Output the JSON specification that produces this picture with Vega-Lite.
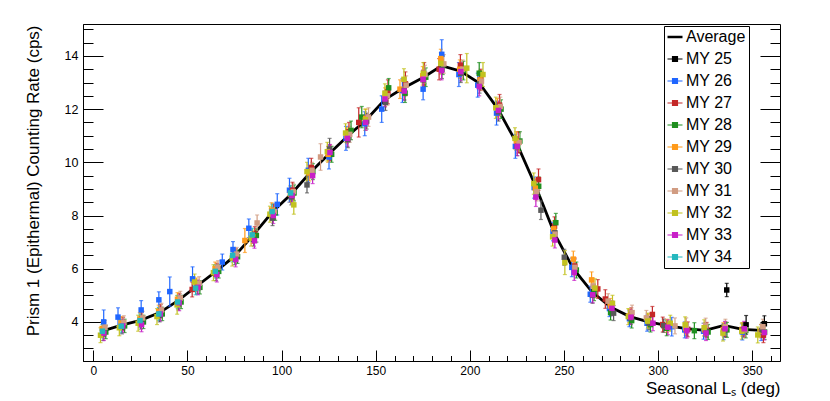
{
"$schema":"https://vega.github.io/schema/vega-lite/v6.json",
"width":697,"height":337,"autosize":"none",
"padding":{"left":83,"top":24,"right":50,"bottom":40},
"background":"white",
"config":{"view":{"stroke":"black","strokeWidth":1},"font":"Liberation Sans"},
"datasets":{
"avg":[{"ls":5,"avg":3.66},{"ls":15,"avg":3.88},{"ls":25,"avg":4.06},{"ls":35,"avg":4.34},{"ls":45,"avg":4.8},{"ls":55,"avg":5.35},{"ls":65,"avg":5.89},{"ls":75,"avg":6.47},{"ls":85,"avg":7.27},{"ls":95,"avg":8.12},{"ls":105,"avg":8.8},{"ls":115,"avg":9.6},{"ls":125,"avg":10.3},{"ls":135,"avg":10.98},{"ls":145,"avg":11.6},{"ls":155,"avg":12.37},{"ls":165,"avg":12.8},{"ls":175,"avg":13.18},{"ls":185,"avg":13.63},{"ls":195,"avg":13.43},{"ls":205,"avg":12.98},{"ls":215,"avg":12.0},{"ls":225,"avg":10.7},{"ls":235,"avg":9.1},{"ls":245,"avg":7.32},{"ls":255,"avg":6.0},{"ls":265,"avg":5.12},{"ls":275,"avg":4.55},{"ls":285,"avg":4.2},{"ls":295,"avg":4.0},{"ls":305,"avg":3.86},{"ls":315,"avg":3.75},{"ls":325,"avg":3.68},{"ls":335,"avg":3.87},{"ls":345,"avg":3.72},{"ls":355,"avg":3.68}],
"pts":[
{"s":"MY 25","x":336.5,"v":5.2,"e":0.25},{"s":"MY 25","x":346.8,"v":3.89,"e":0.35},{"s":"MY 25","x":356.5,"v":3.93,"e":0.3},
{"s":"MY 26","x":5.5,"v":4.0,"e":0.45},{"s":"MY 26","x":13.1,"v":4.18,"e":0.35},{"s":"MY 26","x":25.4,"v":4.45,"e":0.35},{"s":"MY 26","x":34.8,"v":4.83,"e":0.3},{"s":"MY 26","x":40.6,"v":5.14,"e":0.55},{"s":"MY 26","x":52.7,"v":5.62,"e":0.45},{"s":"MY 26","x":68.5,"v":6.25,"e":0.3},{"s":"MY 26","x":74.2,"v":6.72,"e":0.3},{"s":"MY 26","x":82.6,"v":7.52,"e":0.35},{"s":"MY 26","x":97.7,"v":8.42,"e":0.4},{"s":"MY 26","x":104.2,"v":8.95,"e":0.45},{"s":"MY 26","x":114.2,"v":9.7,"e":0.45},{"s":"MY 26","x":125.2,"v":10.2,"e":0.45},{"s":"MY 26","x":134.2,"v":10.9,"e":0.45},{"s":"MY 26","x":144.2,"v":11.45,"e":0.45},{"s":"MY 26","x":153.2,"v":12.0,"e":0.5},{"s":"MY 26","x":164.2,"v":12.7,"e":0.45},{"s":"MY 26","x":175.2,"v":12.75,"e":0.4},{"s":"MY 26","x":185.1,"v":14.06,"e":0.55},{"s":"MY 26","x":194.2,"v":13.3,"e":0.45},{"s":"MY 26","x":204.2,"v":12.9,"e":0.45},{"s":"MY 26","x":214.2,"v":11.85,"e":0.45},{"s":"MY 26","x":224.2,"v":10.6,"e":0.45},{"s":"MY 26","x":234.2,"v":9.05,"e":0.4},{"s":"MY 26","x":244.2,"v":7.4,"e":0.35},{"s":"MY 26","x":254.2,"v":6.05,"e":0.35},{"s":"MY 26","x":264.0,"v":5.04,"e":0.3},{"s":"MY 26","x":274.2,"v":4.5,"e":0.3},{"s":"MY 26","x":284.8,"v":4.12,"e":0.3},{"s":"MY 26","x":294.2,"v":3.95,"e":0.3},{"s":"MY 26","x":307.3,"v":3.82,"e":0.35},{"s":"MY 26","x":314.2,"v":3.7,"e":0.3},{"s":"MY 26","x":324.2,"v":3.65,"e":0.3},{"s":"MY 26","x":334.8,"v":3.63,"e":0.3},{"s":"MY 26","x":344.8,"v":3.62,"e":0.3},{"s":"MY 26","x":354.8,"v":3.6,"e":0.3},
{"s":"MY 27","x":5.8,"v":3.72,"e":0.25},{"s":"MY 27","x":15.8,"v":3.92,"e":0.25},{"s":"MY 27","x":25.8,"v":4.12,"e":0.25},{"s":"MY 27","x":35.8,"v":4.4,"e":0.25},{"s":"MY 27","x":45.8,"v":4.82,"e":0.25},{"s":"MY 27","x":52.5,"v":5.22,"e":0.28},{"s":"MY 27","x":65.8,"v":5.95,"e":0.25},{"s":"MY 27","x":75.8,"v":6.5,"e":0.25},{"s":"MY 27","x":85.8,"v":7.3,"e":0.28},{"s":"MY 27","x":95.8,"v":8.15,"e":0.28},{"s":"MY 27","x":105.8,"v":8.95,"e":0.3},{"s":"MY 27","x":115.8,"v":9.8,"e":0.35},{"s":"MY 27","x":125.8,"v":10.35,"e":0.3},{"s":"MY 27","x":135.8,"v":11.15,"e":0.35},{"s":"MY 27","x":141.0,"v":11.5,"e":0.55},{"s":"MY 27","x":156.5,"v":12.65,"e":0.45},{"s":"MY 27","x":165.8,"v":12.95,"e":0.45},{"s":"MY 27","x":175.8,"v":13.3,"e":0.45},{"s":"MY 27","x":183.7,"v":13.5,"e":0.4},{"s":"MY 27","x":195.0,"v":13.65,"e":0.4},{"s":"MY 27","x":205.8,"v":13.1,"e":0.4},{"s":"MY 27","x":215.8,"v":12.15,"e":0.4},{"s":"MY 27","x":225.8,"v":10.75,"e":0.4},{"s":"MY 27","x":236.5,"v":9.35,"e":0.4},{"s":"MY 27","x":245.0,"v":7.6,"e":0.35},{"s":"MY 27","x":255.8,"v":6.1,"e":0.3},{"s":"MY 27","x":268.0,"v":5.24,"e":0.35},{"s":"MY 27","x":272.0,"v":4.86,"e":0.35},{"s":"MY 27","x":285.8,"v":4.25,"e":0.28},{"s":"MY 27","x":297.0,"v":4.28,"e":0.3},{"s":"MY 27","x":302.5,"v":3.9,"e":0.28},{"s":"MY 27","x":315.8,"v":3.72,"e":0.28},{"s":"MY 27","x":325.8,"v":3.7,"e":0.28},{"s":"MY 27","x":335.8,"v":3.72,"e":0.28},{"s":"MY 27","x":345.8,"v":3.7,"e":0.28},{"s":"MY 27","x":356.0,"v":3.5,"e":0.28},
{"s":"MY 28","x":6.6,"v":3.62,"e":0.25},{"s":"MY 28","x":16.6,"v":3.85,"e":0.25},{"s":"MY 28","x":26.6,"v":4.0,"e":0.25},{"s":"MY 28","x":36.6,"v":4.3,"e":0.25},{"s":"MY 28","x":46.6,"v":4.75,"e":0.25},{"s":"MY 28","x":56.6,"v":5.3,"e":0.25},{"s":"MY 28","x":66.6,"v":5.9,"e":0.25},{"s":"MY 28","x":76.6,"v":6.45,"e":0.25},{"s":"MY 28","x":86.6,"v":7.25,"e":0.25},{"s":"MY 28","x":96.6,"v":8.1,"e":0.28},{"s":"MY 28","x":106.6,"v":8.85,"e":0.3},{"s":"MY 28","x":116.6,"v":9.65,"e":0.3},{"s":"MY 28","x":126.6,"v":10.3,"e":0.3},{"s":"MY 28","x":136.9,"v":11.2,"e":0.35},{"s":"MY 28","x":142.6,"v":11.7,"e":0.4},{"s":"MY 28","x":156.9,"v":12.8,"e":0.35},{"s":"MY 28","x":165.6,"v":12.6,"e":0.35},{"s":"MY 28","x":176.6,"v":13.2,"e":0.35},{"s":"MY 28","x":185.6,"v":13.65,"e":0.35},{"s":"MY 28","x":196.6,"v":13.45,"e":0.35},{"s":"MY 28","x":205.0,"v":13.35,"e":0.4},{"s":"MY 28","x":216.6,"v":12.0,"e":0.35},{"s":"MY 28","x":226.6,"v":10.8,"e":0.35},{"s":"MY 28","x":236.6,"v":9.1,"e":0.35},{"s":"MY 28","x":245.7,"v":7.73,"e":0.35},{"s":"MY 28","x":256.6,"v":5.95,"e":0.3},{"s":"MY 28","x":266.0,"v":5.1,"e":0.3},{"s":"MY 28","x":274.8,"v":4.35,"e":0.28},{"s":"MY 28","x":286.0,"v":4.05,"e":0.28},{"s":"MY 28","x":296.0,"v":3.9,"e":0.28},{"s":"MY 28","x":304.6,"v":3.76,"e":0.28},{"s":"MY 28","x":319.3,"v":3.67,"e":0.3},{"s":"MY 28","x":326.6,"v":3.62,"e":0.28},{"s":"MY 28","x":336.6,"v":3.7,"e":0.28},{"s":"MY 28","x":346.6,"v":3.68,"e":0.28},{"s":"MY 28","x":356.6,"v":3.62,"e":0.28},
{"s":"MY 29","x":4.7,"v":3.75,"e":0.25},{"s":"MY 29","x":14.7,"v":3.95,"e":0.25},{"s":"MY 29","x":24.7,"v":4.1,"e":0.25},{"s":"MY 29","x":34.7,"v":4.38,"e":0.25},{"s":"MY 29","x":44.7,"v":4.85,"e":0.25},{"s":"MY 29","x":54.7,"v":5.4,"e":0.25},{"s":"MY 29","x":64.7,"v":6.0,"e":0.25},{"s":"MY 29","x":80.5,"v":7.06,"e":0.45},{"s":"MY 29","x":84.7,"v":7.2,"e":0.25},{"s":"MY 29","x":94.7,"v":8.2,"e":0.28},{"s":"MY 29","x":104.7,"v":8.8,"e":0.3},{"s":"MY 29","x":114.7,"v":9.6,"e":0.3},{"s":"MY 29","x":124.7,"v":10.3,"e":0.3},{"s":"MY 29","x":134.7,"v":11.0,"e":0.3},{"s":"MY 29","x":144.7,"v":11.65,"e":0.35},{"s":"MY 29","x":155.0,"v":12.45,"e":0.35},{"s":"MY 29","x":162.9,"v":12.75,"e":0.35},{"s":"MY 29","x":175.0,"v":13.25,"e":0.35},{"s":"MY 29","x":184.6,"v":13.9,"e":0.35},{"s":"MY 29","x":194.7,"v":13.5,"e":0.35},{"s":"MY 29","x":205.4,"v":13.1,"e":0.35},{"s":"MY 29","x":214.7,"v":12.05,"e":0.35},{"s":"MY 29","x":224.7,"v":10.8,"e":0.35},{"s":"MY 29","x":234.8,"v":9.03,"e":0.35},{"s":"MY 29","x":244.6,"v":7.5,"e":0.3},{"s":"MY 29","x":255.0,"v":6.36,"e":0.3},{"s":"MY 29","x":264.7,"v":5.58,"e":0.3},{"s":"MY 29","x":274.7,"v":4.6,"e":0.28},{"s":"MY 29","x":284.7,"v":4.22,"e":0.25},{"s":"MY 29","x":294.7,"v":4.05,"e":0.25},{"s":"MY 29","x":304.7,"v":3.85,"e":0.25},{"s":"MY 29","x":314.7,"v":3.75,"e":0.25},{"s":"MY 29","x":324.7,"v":3.7,"e":0.25},{"s":"MY 29","x":334.7,"v":3.72,"e":0.25},{"s":"MY 29","x":344.7,"v":3.72,"e":0.25},{"s":"MY 29","x":354.7,"v":3.65,"e":0.25},
{"s":"MY 30","x":5.2,"v":3.55,"e":0.25},{"s":"MY 30","x":15.2,"v":3.8,"e":0.25},{"s":"MY 30","x":25.2,"v":3.98,"e":0.25},{"s":"MY 30","x":35.2,"v":4.25,"e":0.25},{"s":"MY 30","x":45.2,"v":4.7,"e":0.25},{"s":"MY 30","x":55.2,"v":5.3,"e":0.25},{"s":"MY 30","x":65.2,"v":5.8,"e":0.25},{"s":"MY 30","x":75.2,"v":6.4,"e":0.25},{"s":"MY 30","x":85.2,"v":7.1,"e":0.25},{"s":"MY 30","x":95.2,"v":7.9,"e":0.28},{"s":"MY 30","x":105.2,"v":8.7,"e":0.3},{"s":"MY 30","x":113.5,"v":9.15,"e":0.3},{"s":"MY 30","x":125.5,"v":10.5,"e":0.4},{"s":"MY 30","x":135.2,"v":10.85,"e":0.3},{"s":"MY 30","x":145.2,"v":11.55,"e":0.3},{"s":"MY 30","x":155.2,"v":12.25,"e":0.3},{"s":"MY 30","x":165.2,"v":12.7,"e":0.35},{"s":"MY 30","x":175.2,"v":13.1,"e":0.35},{"s":"MY 30","x":185.2,"v":13.5,"e":0.35},{"s":"MY 30","x":195.2,"v":13.35,"e":0.35},{"s":"MY 30","x":205.2,"v":12.95,"e":0.35},{"s":"MY 30","x":215.2,"v":11.9,"e":0.35},{"s":"MY 30","x":225.2,"v":10.6,"e":0.35},{"s":"MY 30","x":237.8,"v":8.2,"e":0.35},{"s":"MY 30","x":245.2,"v":7.35,"e":0.3},{"s":"MY 30","x":250.2,"v":6.43,"e":0.3},{"s":"MY 30","x":265.2,"v":5.0,"e":0.3},{"s":"MY 30","x":276.4,"v":4.33,"e":0.28},{"s":"MY 30","x":285.2,"v":4.15,"e":0.25},{"s":"MY 30","x":295.2,"v":3.95,"e":0.25},{"s":"MY 30","x":303.0,"v":3.86,"e":0.25},{"s":"MY 30","x":315.2,"v":3.72,"e":0.25},{"s":"MY 30","x":325.2,"v":3.7,"e":0.25},{"s":"MY 30","x":335.2,"v":3.68,"e":0.25},{"s":"MY 30","x":345.2,"v":3.7,"e":0.25},{"s":"MY 30","x":355.2,"v":3.68,"e":0.25},
{"s":"MY 31","x":6.2,"v":3.8,"e":0.25},{"s":"MY 31","x":16.2,"v":3.98,"e":0.25},{"s":"MY 31","x":26.2,"v":4.15,"e":0.25},{"s":"MY 31","x":36.2,"v":4.45,"e":0.25},{"s":"MY 31","x":46.2,"v":4.9,"e":0.25},{"s":"MY 31","x":56.2,"v":5.45,"e":0.25},{"s":"MY 31","x":66.2,"v":6.05,"e":0.25},{"s":"MY 31","x":76.2,"v":6.55,"e":0.25},{"s":"MY 31","x":87.0,"v":7.72,"e":0.3},{"s":"MY 31","x":96.2,"v":8.15,"e":0.28},{"s":"MY 31","x":106.2,"v":8.9,"e":0.3},{"s":"MY 31","x":116.2,"v":9.7,"e":0.3},{"s":"MY 31","x":120.7,"v":10.2,"e":0.5},{"s":"MY 31","x":136.2,"v":11.05,"e":0.3},{"s":"MY 31","x":146.2,"v":11.7,"e":0.35},{"s":"MY 31","x":156.2,"v":12.5,"e":0.35},{"s":"MY 31","x":166.2,"v":12.9,"e":0.35},{"s":"MY 31","x":176.2,"v":13.3,"e":0.35},{"s":"MY 31","x":186.2,"v":13.7,"e":0.35},{"s":"MY 31","x":196.2,"v":13.5,"e":0.35},{"s":"MY 31","x":206.2,"v":13.05,"e":0.35},{"s":"MY 31","x":216.2,"v":12.1,"e":0.35},{"s":"MY 31","x":226.2,"v":10.75,"e":0.35},{"s":"MY 31","x":235.5,"v":8.9,"e":0.35},{"s":"MY 31","x":245.3,"v":7.3,"e":0.3},{"s":"MY 31","x":255.8,"v":6.05,"e":0.3},{"s":"MY 31","x":265.5,"v":5.35,"e":0.3},{"s":"MY 31","x":273.5,"v":4.78,"e":0.28},{"s":"MY 31","x":286.2,"v":4.35,"e":0.28},{"s":"MY 31","x":293.8,"v":4.15,"e":0.28},{"s":"MY 31","x":309.0,"v":3.85,"e":0.3},{"s":"MY 31","x":315.0,"v":3.87,"e":0.28},{"s":"MY 31","x":325.3,"v":3.86,"e":0.28},{"s":"MY 31","x":335.8,"v":3.82,"e":0.28},{"s":"MY 31","x":346.2,"v":3.7,"e":0.28},{"s":"MY 31","x":355.7,"v":3.82,"e":0.28},
{"s":"MY 32","x":3.8,"v":3.5,"e":0.28},{"s":"MY 32","x":13.8,"v":3.78,"e":0.3},{"s":"MY 32","x":23.8,"v":3.95,"e":0.3},{"s":"MY 32","x":33.8,"v":4.2,"e":0.3},{"s":"MY 32","x":44.5,"v":4.64,"e":0.35},{"s":"MY 32","x":53.8,"v":5.5,"e":0.3},{"s":"MY 32","x":63.8,"v":5.85,"e":0.3},{"s":"MY 32","x":73.8,"v":6.4,"e":0.3},{"s":"MY 32","x":83.8,"v":7.15,"e":0.3},{"s":"MY 32","x":93.8,"v":8.05,"e":0.3},{"s":"MY 32","x":106.5,"v":8.4,"e":0.35},{"s":"MY 32","x":113.5,"v":9.65,"e":0.35},{"s":"MY 32","x":124.3,"v":10.4,"e":0.35},{"s":"MY 32","x":134.0,"v":11.1,"e":0.35},{"s":"MY 32","x":144.5,"v":11.6,"e":0.4},{"s":"MY 32","x":154.9,"v":12.6,"e":0.35},{"s":"MY 32","x":165.0,"v":13.12,"e":0.4},{"s":"MY 32","x":175.3,"v":13.35,"e":0.4},{"s":"MY 32","x":184.6,"v":13.72,"e":0.4},{"s":"MY 32","x":198.4,"v":13.54,"e":0.55},{"s":"MY 32","x":207.0,"v":13.3,"e":0.45},{"s":"MY 32","x":213.8,"v":12.05,"e":0.4},{"s":"MY 32","x":224.0,"v":10.9,"e":0.4},{"s":"MY 32","x":234.0,"v":9.2,"e":0.4},{"s":"MY 32","x":244.0,"v":7.2,"e":0.35},{"s":"MY 32","x":250.5,"v":6.23,"e":0.45},{"s":"MY 32","x":266.5,"v":5.27,"e":0.35},{"s":"MY 32","x":275.8,"v":4.7,"e":0.3},{"s":"MY 32","x":284.2,"v":4.2,"e":0.3},{"s":"MY 32","x":294.5,"v":4.03,"e":0.3},{"s":"MY 32","x":306.5,"v":3.95,"e":0.3},{"s":"MY 32","x":314.4,"v":3.89,"e":0.3},{"s":"MY 32","x":324.5,"v":3.78,"e":0.3},{"s":"MY 32","x":334.5,"v":3.58,"e":0.3},{"s":"MY 32","x":344.5,"v":3.65,"e":0.3},{"s":"MY 32","x":353.0,"v":3.51,"e":0.3},
{"s":"MY 33","x":5.6,"v":3.58,"e":0.28},{"s":"MY 33","x":15.6,"v":3.85,"e":0.25},{"s":"MY 33","x":25.6,"v":3.9,"e":0.27},{"s":"MY 33","x":35.6,"v":4.3,"e":0.27},{"s":"MY 33","x":45.6,"v":4.72,"e":0.3},{"s":"MY 33","x":55.6,"v":5.3,"e":0.28},{"s":"MY 33","x":65.6,"v":5.78,"e":0.28},{"s":"MY 33","x":75.6,"v":6.35,"e":0.28},{"s":"MY 33","x":85.6,"v":7.05,"e":0.28},{"s":"MY 33","x":95.6,"v":8.0,"e":0.3},{"s":"MY 33","x":105.6,"v":8.75,"e":0.3},{"s":"MY 33","x":116.5,"v":9.5,"e":0.3},{"s":"MY 33","x":125.7,"v":10.37,"e":0.3},{"s":"MY 33","x":135.0,"v":10.9,"e":0.3},{"s":"MY 33","x":144.7,"v":11.5,"e":0.3},{"s":"MY 33","x":154.9,"v":12.38,"e":0.3},{"s":"MY 33","x":165.2,"v":12.68,"e":0.35},{"s":"MY 33","x":175.2,"v":13.12,"e":0.35},{"s":"MY 33","x":185.0,"v":13.45,"e":0.35},{"s":"MY 33","x":195.2,"v":13.41,"e":0.35},{"s":"MY 33","x":205.0,"v":12.85,"e":0.35},{"s":"MY 33","x":215.2,"v":11.95,"e":0.35},{"s":"MY 33","x":225.2,"v":10.6,"e":0.35},{"s":"MY 33","x":235.1,"v":8.69,"e":0.35},{"s":"MY 33","x":245.2,"v":7.08,"e":0.3},{"s":"MY 33","x":255.5,"v":5.86,"e":0.3},{"s":"MY 33","x":265.3,"v":5.02,"e":0.3},{"s":"MY 33","x":275.5,"v":4.51,"e":0.28},{"s":"MY 33","x":285.6,"v":4.18,"e":0.28},{"s":"MY 33","x":297.3,"v":3.95,"e":0.28},{"s":"MY 33","x":305.2,"v":3.8,"e":0.28},{"s":"MY 33","x":315.3,"v":3.67,"e":0.28},{"s":"MY 33","x":325.5,"v":3.58,"e":0.28},{"s":"MY 33","x":335.6,"v":3.74,"e":0.28},{"s":"MY 33","x":345.8,"v":3.74,"e":0.28},{"s":"MY 33","x":356.5,"v":3.6,"e":0.28},
{"s":"MY 34","x":4.8,"v":3.65,"e":0.25},{"s":"MY 34","x":14.8,"v":3.84,"e":0.25},{"s":"MY 34","x":24.8,"v":4.05,"e":0.25},{"s":"MY 34","x":34.8,"v":4.3,"e":0.25},{"s":"MY 34","x":44.8,"v":4.75,"e":0.25},{"s":"MY 34","x":54.3,"v":5.27,"e":0.25},{"s":"MY 34","x":64.8,"v":5.9,"e":0.25},{"s":"MY 34","x":74.0,"v":6.5,"e":0.25},{"s":"MY 34","x":84.4,"v":7.27,"e":0.25},{"s":"MY 34","x":95.0,"v":8.15,"e":0.28},{"s":"MY 34","x":104.8,"v":8.85,"e":0.28}
]},
"resolve":{"axis":{"x":"independent","y":"independent"}},
"layer":[
{"data":{"name":"avg"},
 "mark":{"type":"line","color":"black","strokeWidth":2.8},
 "encoding":{
  "x":{"field":"ls","type":"quantitative","scale":{"domain":[-5.5,364.8],"nice":false,"zero":false},
   "axis":{"orient":"bottom","values":[0,50,100,150,200,250,300,350],"ticks":false,"grid":false,"domain":true,"domainColor":"black","domainWidth":1,"labelFont":"Liberation Sans","labelFontSize":12,"labelColor":"black","labelPadding":4,"labelFlush":false,"title":"Seasonal Lₛ (deg)","titleFont":"Liberation Sans","titleFontSize":17,"titleFontWeight":"normal","titleColor":"black","titleAnchor":"end","titleAlign":"right","titleBaseline":"alphabetic","titleX":697,"titleY":32}},
  "y":{"field":"avg","type":"quantitative","scale":{"domain":[2.53,15.2],"nice":false,"zero":false},
   "axis":{"orient":"left","values":[4,6,8,10,12,14],"ticks":false,"grid":false,"domain":true,"domainColor":"black","domainWidth":1,"labelFont":"Liberation Sans","labelFontSize":12.5,"labelColor":"black","labelPadding":5,"labelFlush":false,"title":"Prism 1 (Epithermal) Counting Rate (cps)","titleFont":"Liberation Sans","titleFontSize":17,"titleFontWeight":"normal","titleColor":"black","titleAngle":270,"titleAlign":"right","titleBaseline":"middle","titleX":-50,"titleY":1}}
 }},
{"data":{"name":"pts"},
 "mark":{"type":"errorbar","ticks":{"size":4},"thickness":1.2},
 "encoding":{
  "x":{"field":"x","type":"quantitative","scale":{"domain":[-5.5,364.8],"nice":false,"zero":false},"axis":null},
  "y":{"field":"v","type":"quantitative","scale":{"domain":[2.53,15.2],"nice":false,"zero":false},"axis":null},
  "yError":{"field":"e"},
  "color":{"field":"s","type":"nominal",
   "scale":{"domain":["Average","MY 25","MY 26","MY 27","MY 28","MY 29","MY 30","MY 31","MY 32","MY 33","MY 34"],
    "range":["#000000","#000000","#1f66ff","#c42828","#1f8f1f","#ff9a1a","#595959","#d19c82","#c2c21f","#c81fc8","#25b8be"]},
   "legend":{"orient":"none","legendX":581,"legendY":2,"title":null,"strokeColor":"black","fillColor":"white","padding":3,
    "labelFont":"Liberation Sans","labelFontSize":16,"labelColor":"black","labelOffset":3,"symbolSize":225,"rowPadding":6,
    "encode":{"symbols":{"update":{
     "shape":{"signal":"datum.value === 'Average' ? 'M-1,0L1,0' : 'M-1,0L1,0M-0.33,-0.33L0.33,-0.33L0.33,0.33L-0.33,0.33Z'"},
     "fill":{"scale":"color","field":"value"},
     "stroke":{"scale":"color","field":"value"},
     "strokeWidth":{"signal":"datum.value === 'Average' ? 2.5 : 1.2"},
     "opacity":{"value":1}}}}}}
 }},
{"data":{"name":"pts"},
 "mark":{"type":"square","size":30,"opacity":1,"filled":true},
 "encoding":{
  "x":{"field":"x","type":"quantitative","scale":{"domain":[-5.5,364.8],"nice":false,"zero":false},"axis":null},
  "y":{"field":"v","type":"quantitative","scale":{"domain":[2.53,15.2],"nice":false,"zero":false},"axis":null},
  "color":{"field":"s","type":"nominal",
   "scale":{"domain":["Average","MY 25","MY 26","MY 27","MY 28","MY 29","MY 30","MY 31","MY 32","MY 33","MY 34"],
    "range":["#000000","#000000","#1f66ff","#c42828","#1f8f1f","#ff9a1a","#595959","#d19c82","#c2c21f","#c81fc8","#25b8be"]},
   "legend":{"orient":"none","legendX":581,"legendY":2,"title":null,"strokeColor":"black","fillColor":"white","padding":3,
    "labelFont":"Liberation Sans","labelFontSize":16,"labelColor":"black","labelOffset":3,"symbolSize":225,"rowPadding":6,
    "encode":{"symbols":{"update":{
     "shape":{"signal":"datum.value === 'Average' ? 'M-1,0L1,0' : 'M-1,0L1,0M-0.33,-0.33L0.33,-0.33L0.33,0.33L-0.33,0.33Z'"},
     "fill":{"scale":"color","field":"value"},
     "stroke":{"scale":"color","field":"value"},
     "strokeWidth":{"signal":"datum.value === 'Average' ? 2.5 : 1.2"},
     "opacity":{"value":1}}}}}}
 }},
{"data":{"name":"avg"},
 "mark":{"type":"point","opacity":0},
 "encoding":{
  "x":{"field":"ls","type":"quantitative","scale":{"domain":[-5.5,364.8],"nice":false,"zero":false},
   "axis":{"orient":"bottom","values":[0,50,100,150,200,250,300,350],"labels":false,"domain":false,"grid":false,"title":null,"ticks":true,"tickSize":-11,"tickColor":"black","tickWidth":1}},
  "y":{"field":"avg","type":"quantitative","scale":{"domain":[2.53,15.2],"nice":false,"zero":false},
   "axis":{"orient":"left","values":[4,6,8,10,12,14],"labels":false,"domain":false,"grid":false,"title":null,"ticks":true,"tickSize":-20,"tickColor":"black","tickWidth":1}}
 }},
{"data":{"name":"avg"},
 "mark":{"type":"point","opacity":0},
 "encoding":{
  "x":{"field":"ls","type":"quantitative","scale":{"domain":[-5.5,364.8],"nice":false,"zero":false},
   "axis":{"orient":"bottom","values":[0,10,20,30,40,50,60,70,80,90,100,110,120,130,140,150,160,170,180,190,200,210,220,230,240,250,260,270,280,290,300,310,320,330,340,350,360],"labels":false,"domain":false,"grid":false,"title":null,"ticks":true,"tickSize":-5.5,"tickColor":"black","tickWidth":1}},
  "y":{"field":"avg","type":"quantitative","scale":{"domain":[2.53,15.2],"nice":false,"zero":false},
   "axis":{"orient":"left","values":[3,3.5,4,4.5,5,5.5,6,6.5,7,7.5,8,8.5,9,9.5,10,10.5,11,11.5,12,12.5,13,13.5,14,14.5,15],"labels":false,"domain":false,"grid":false,"title":null,"ticks":true,"tickSize":-10,"tickColor":"black","tickWidth":1}}
 }},
{"data":{"name":"avg"},
 "mark":{"type":"point","opacity":0},
 "encoding":{
  "x":{"field":"ls","type":"quantitative","scale":{"domain":[-5.5,364.8],"nice":false,"zero":false},"axis":null},
  "y":{"field":"avg","type":"quantitative","scale":{"domain":[2.53,15.2],"nice":false,"zero":false},
   "axis":{"orient":"right","values":[4,6,8,10,12,14],"labels":false,"domain":false,"grid":false,"title":null,"ticks":true,"tickSize":-20,"tickColor":"black","tickWidth":1}}
 }},
{"data":{"name":"avg"},
 "mark":{"type":"point","opacity":0},
 "encoding":{
  "x":{"field":"ls","type":"quantitative","scale":{"domain":[-5.5,364.8],"nice":false,"zero":false},"axis":null},
  "y":{"field":"avg","type":"quantitative","scale":{"domain":[2.53,15.2],"nice":false,"zero":false},
   "axis":{"orient":"right","values":[3,3.5,4,4.5,5,5.5,6,6.5,7,7.5,8,8.5,9,9.5,10,10.5,11,11.5,12,12.5,13,13.5,14,14.5,15],"labels":false,"domain":false,"grid":false,"title":null,"ticks":true,"tickSize":-10,"tickColor":"black","tickWidth":1}}
 }}
]
}
